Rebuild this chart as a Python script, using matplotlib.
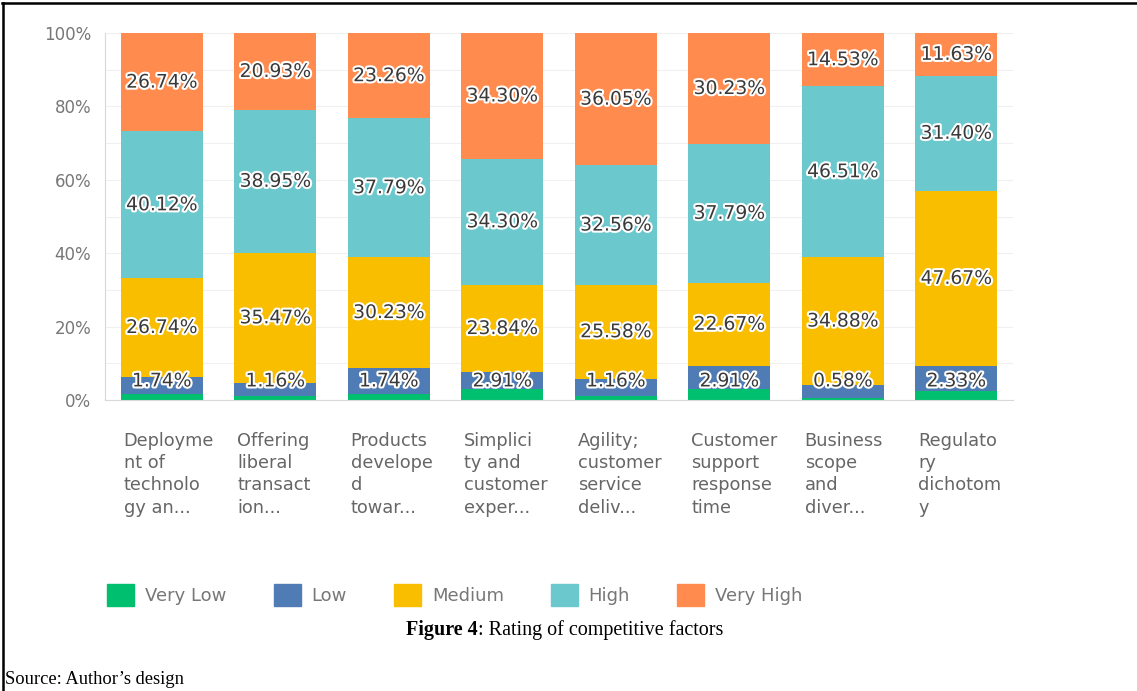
import matplotlib.pyplot as plt
import matplotlib.patheffects as pe
from matplotlib.patches import Patch
from matplotlib.lines import Line2D
import numpy as np

# categories (labels are cut and wrapped the way the survey tool shows them)
categories = [
    "Deployme\nnt of\ntechnolo\ngy an...",
    "Offering\nliberal\ntransact\nion...",
    "Products\ndevelope\nd\ntowar...",
    "Simplici\nty and\ncustomer\nexper...",
    "Agility;\ncustomer\nservice\ndeliv...",
    "Customer\nsupport\nresponse\ntime",
    "Business\nscope\nand\ndiver...",
    "Regulato\nry\ndichotom\ny",
]

# percentages per rating
very_low = [1.74, 1.16, 1.74, 2.91, 1.16, 2.91, 0.58, 2.33]
low = [4.65, 3.49, 6.98, 4.65, 4.65, 6.40, 3.49, 6.98]
medium = [26.74, 35.47, 30.23, 23.84, 25.58, 22.67, 34.88, 47.67]
high = [40.12, 38.95, 37.79, 34.30, 32.56, 37.79, 46.51, 31.40]
very_high = [26.74, 20.93, 23.26, 34.30, 36.05, 30.23, 14.53, 11.63]

series_names = ["Very Low", "Low", "Medium", "High", "Very High"]
colors = ["#00bf6f", "#507cb6", "#f9be00", "#6bc8cd", "#ff8b4f"]

fig = plt.figure(figsize=(11.37, 6.91), dpi=100)
ax = fig.add_axes([0.0923, 0.4211, 0.7986, 0.5311])

x = np.arange(len(categories))
bar_width = 0.72
halo = [pe.withStroke(linewidth=3, foreground="white")]

# stack the bars bottom to top
bottom = np.zeros(len(categories))
all_series = [very_low, low, medium, high, very_high]
for k, values in enumerate(all_series):
    values = np.array(values)
    ax.bar(x, values, bar_width, bottom=bottom, color=colors[k], zorder=2)
    for i in range(len(x)):
        if k == 0:
            # the very low label sits on the low segment in the original
            ypos = 5.2
        elif k == 1:
            ypos = None
        else:
            ypos = bottom[i] + values[i] / 2
        if ypos is not None:
            ax.text(x[i], ypos, f"{values[i]:.2f}%", ha="center", va="center",
                    fontsize=13.5, color="#3a3a3a", zorder=3, path_effects=halo)
    bottom = bottom + values

# axes styling
ax.set_xlim(-0.5, 7.5)
ax.set_ylim(0, 100)
ax.set_yticks(np.arange(0, 101, 20))
ax.set_yticks(np.arange(0, 101, 10), minor=True)
ax.set_yticklabels([f"{v}%" for v in range(0, 101, 20)], fontsize=12, color="#777777")
ax.tick_params(axis="y", length=0, pad=10, which="both")
ax.grid(axis="y", which="both", color="#f0f0f0", linewidth=0.8, zorder=0)
for side in ["top", "right"]:
    ax.spines[side].set_visible(False)
ax.spines["left"].set_color("#d8d8d8")
ax.spines["bottom"].set_color("#d8d8d8")

ax.set_xticks(x)
ax.set_xticklabels([])
ax.tick_params(axis="x", length=0)
for i, label in enumerate(categories):
    ax.annotate(label, xy=(x[i] - bar_width / 2, 0), xycoords="data",
                xytext=(2, -23), textcoords="offset points",
                ha="left", va="top", fontsize=12.8, color="#666666",
                linespacing=1.3)

# legend
handles = [Patch(facecolor=c, edgecolor=c) for c in colors]
fig.legend(handles, series_names, loc="center", bbox_to_anchor=(0.40, 0.139),
           ncol=5, frameon=False, fontsize=13, labelcolor="#777777",
           handlelength=1.5, handleheight=1.5, columnspacing=2.6, handletextpad=0.6)

# caption and source
fig.text(0.4205, 1 - 630 / 691, "Figure 4", ha="right", va="center",
         fontsize=14.5, fontweight="bold", family="Liberation Serif")
fig.text(0.4205, 1 - 630 / 691, ": Rating of competitive factors", ha="left", va="center",
         fontsize=14.5, family="Liberation Serif")
fig.text(0.004, 1 - 680 / 691, "Source: Author\u2019s design", ha="left", va="center",
         fontsize=13.3, family="Liberation Serif")

# frame lines of the original page
fig.add_artist(Line2D([0.002, 1.0], [0.996, 0.996], color="black", linewidth=1.8))
fig.add_artist(Line2D([0.0025, 0.0025], [0.0, 0.996], color="black", linewidth=1.8))

fig.savefig("out.png", dpi=100)
